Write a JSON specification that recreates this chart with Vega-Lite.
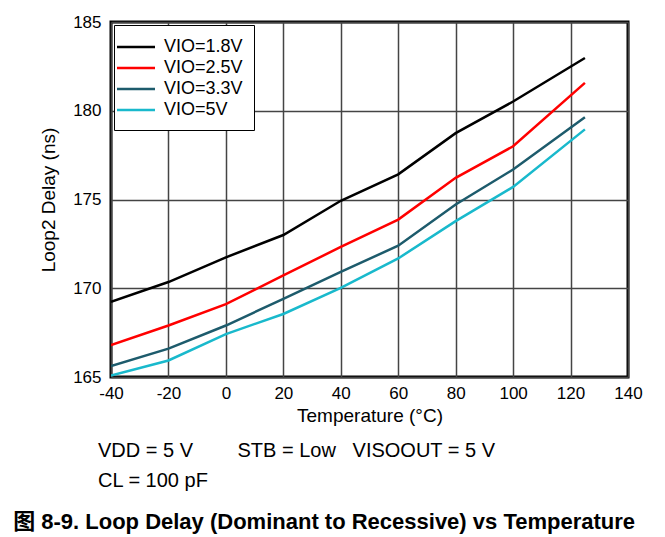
{
  "$schema": "https://vega.github.io/schema/vega-lite/v6.json",
  "padding": {"left": 13, "top": 11, "right": 20, "bottom": 5},
  "background": "white",
  "title": {
    "text": "图 8-9. Loop Delay (Dominant to Recessive) vs Temperature",
    "orient": "bottom",
    "anchor": "start",
    "frame": "bounds",
    "font": "Liberation Sans, Noto Sans CJK SC",
    "fontSize": 22,
    "fontWeight": "bold",
    "color": "black",
    "dx": -25,
    "offset": 19
  },
  "vconcat": [
    {
      "width": 517,
      "height": 355,
      "data": {
        "values": [
          {"t": -40, "d": 169.23, "vio": "VIO=1.8V"},
          {"t": -20, "d": 170.35, "vio": "VIO=1.8V"},
          {"t": 0, "d": 171.74, "vio": "VIO=1.8V"},
          {"t": 20, "d": 173.0, "vio": "VIO=1.8V"},
          {"t": 40, "d": 174.93, "vio": "VIO=1.8V"},
          {"t": 60, "d": 176.42, "vio": "VIO=1.8V"},
          {"t": 80, "d": 178.74, "vio": "VIO=1.8V"},
          {"t": 100, "d": 180.52, "vio": "VIO=1.8V"},
          {"t": 125, "d": 182.97, "vio": "VIO=1.8V"},
          {"t": -40, "d": 166.8, "vio": "VIO=2.5V"},
          {"t": -20, "d": 167.9, "vio": "VIO=2.5V"},
          {"t": 0, "d": 169.1, "vio": "VIO=2.5V"},
          {"t": 20, "d": 170.72, "vio": "VIO=2.5V"},
          {"t": 40, "d": 172.33, "vio": "VIO=2.5V"},
          {"t": 60, "d": 173.87, "vio": "VIO=2.5V"},
          {"t": 80, "d": 176.22, "vio": "VIO=2.5V"},
          {"t": 100, "d": 178.0, "vio": "VIO=2.5V"},
          {"t": 125, "d": 181.57, "vio": "VIO=2.5V"},
          {"t": -40, "d": 165.62, "vio": "VIO=3.3V"},
          {"t": -20, "d": 166.6, "vio": "VIO=3.3V"},
          {"t": 0, "d": 167.9, "vio": "VIO=3.3V"},
          {"t": 20, "d": 169.4, "vio": "VIO=3.3V"},
          {"t": 40, "d": 170.92, "vio": "VIO=3.3V"},
          {"t": 60, "d": 172.4, "vio": "VIO=3.3V"},
          {"t": 80, "d": 174.72, "vio": "VIO=3.3V"},
          {"t": 100, "d": 176.69, "vio": "VIO=3.3V"},
          {"t": 125, "d": 179.64, "vio": "VIO=3.3V"},
          {"t": -40, "d": 165.08, "vio": "VIO=5V"},
          {"t": -20, "d": 165.93, "vio": "VIO=5V"},
          {"t": 0, "d": 167.42, "vio": "VIO=5V"},
          {"t": 20, "d": 168.55, "vio": "VIO=5V"},
          {"t": 40, "d": 170.02, "vio": "VIO=5V"},
          {"t": 60, "d": 171.68, "vio": "VIO=5V"},
          {"t": 80, "d": 173.78, "vio": "VIO=5V"},
          {"t": 100, "d": 175.71, "vio": "VIO=5V"},
          {"t": 125, "d": 178.95, "vio": "VIO=5V"}
        ]
      },
      "title": {
        "text": ["\u00a0\u00a0\u00a0VDD = 5 V\u00a0\u00a0\u00a0\u00a0\u00a0\u00a0\u00a0\u00a0STB = Low\u00a0\u00a0\u00a0VISOOUT = 5 V", "CL = 100 pF"],
        "orient": "bottom",
        "anchor": "start",
        "frame": "group",
        "font": "Liberation Sans",
        "fontSize": 20,
        "fontWeight": "normal",
        "color": "black",
        "lineHeight": 30,
        "dx": -13,
        "offset": 16
      },
      "mark": {"type": "line", "strokeWidth": 2.5, "clip": true},
      "encoding": {
        "x": {
          "field": "t",
          "type": "quantitative",
          "scale": {"domain": [-40, 140], "nice": false, "zero": false},
          "axis": {
            "title": "Temperature (°C)",
            "values": [-40, -20, 0, 20, 40, 60, 80, 100, 120, 140],
            "labelExpr": "datum.value < 0 ? '-' + abs(datum.value) : '' + datum.value",
            "labelFlush": false,
            "labelOverlap": false,
            "labelPadding": 8,
            "titlePadding": 5
          }
        },
        "y": {
          "field": "d",
          "type": "quantitative",
          "scale": {"domain": [165, 185], "nice": false, "zero": false},
          "axis": {
            "title": "Loop2 Delay (ns)",
            "values": [165, 170, 175, 180, 185],
            "labelFlush": false,
            "labelOverlap": false,
            "labelPadding": 10,
            "titlePadding": 14
          }
        },
        "color": {
          "field": "vio",
          "type": "nominal",
          "scale": {
            "domain": ["VIO=1.8V", "VIO=2.5V", "VIO=3.3V", "VIO=5V"],
            "range": ["#000000", "#ff0000", "#1d5b6c", "#19b9cc"]
          },
          "legend": {
            "title": null,
            "orient": "top-left",
            "offset": 3,
            "strokeColor": "black",
            "fillColor": "white",
            "padding": 11,
            "symbolType": "M-2,0H2",
            "symbolSize": 361,
            "symbolStrokeWidth": 2.5,
            "labelFontSize": 18,
            "labelColor": "black",
            "labelOffset": 17,
            "rowPadding": 1
          }
        }
      }
    }
  ],
  "config": {
    "font": "Liberation Sans",
    "view": {"stroke": "black", "strokeWidth": 3},
    "axis": {
      "domain": false,
      "ticks": false,
      "grid": true,
      "gridColor": "#444444",
      "gridWidth": 1.5,
      "gridOpacity": 1,
      "labelFont": "Liberation Sans",
      "labelFontSize": 17,
      "labelColor": "black",
      "titleFont": "Liberation Sans",
      "titleFontSize": 19,
      "titleFontWeight": "normal",
      "titleColor": "black"
    },
    "legend": {"labelFont": "Liberation Sans"}
  }
}
